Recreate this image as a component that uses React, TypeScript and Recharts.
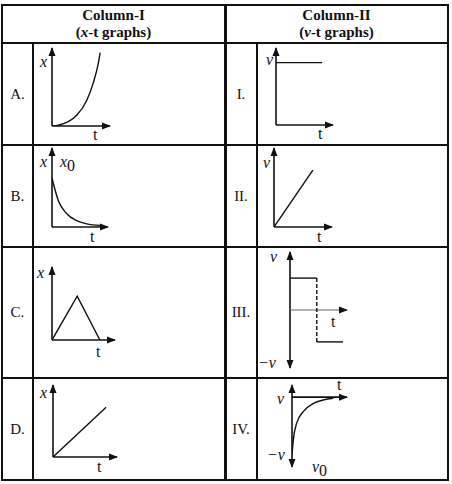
import React from 'react'
import { LineChart, Line, XAxis, YAxis, ReferenceLine, ReferenceDot } from 'recharts'

type Pt = { t: number; y: number }

// table text
const rowLetters = ['A.', 'B.', 'C.', 'D.']
const rowNumerals = ['I.', 'II.', 'III.', 'IV.']

// curves (each graph uses t in 0..10)
const curveA: Pt[] = [
  { t: 0, y: 0 }, { t: 1.1, y: 0.1 }, { t: 4.3, y: 1.4 }, { t: 6, y: 3.3 },
  { t: 7.1, y: 5.5 }, { t: 8, y: 8.1 }, { t: 8.3, y: 9.4 },
]
const lineI: Pt[] = [{ t: 0, y: 8.1 }, { t: 8.1, y: 8.1 }]
const curveB: Pt[] = [
  { t: 0, y: 6.2 }, { t: 1.1, y: 3.4 }, { t: 2.6, y: 1.7 }, { t: 4.4, y: 0.8 },
  { t: 6.2, y: 0.4 }, { t: 8.6, y: 0.2 },
]
const lineII: Pt[] = [{ t: 0, y: 0 }, { t: 6.7, y: 7.2 }]
const triangleC: Pt[] = [{ t: 0, y: 0 }, { t: 4, y: 6 }, { t: 7.6, y: 0 }]
const upperIII: Pt[] = [{ t: 0, y: 5.5 }, { t: 4.7, y: 5.5 }]
const dropIII: Pt[] = [{ t: 4.7, y: 5.5 }, { t: 4.7, y: -5.5 }]
const lowerIII: Pt[] = [{ t: 4.7, y: -5.5 }, { t: 9.3, y: -5.5 }]
const lineD: Pt[] = [{ t: 0, y: 0 }, { t: 8.3, y: 6.9 }]
const curveIV: Pt[] = [
  { t: 0, y: -10 }, { t: 0.24, y: -7.4 }, { t: 0.85, y: -4.5 }, { t: 2.05, y: -2.5 },
  { t: 3.9, y: -1.1 }, { t: 5.7, y: -0.5 }, { t: 7.5, y: -0.2 },
]

const FONT = '"Liberation Serif", "Times New Roman", serif'
const INK = '#111'

type Series = { data: Pt[]; curve?: 'monotone' | 'linear'; dash?: string }
type Label = { text: string; sub?: string; left: number; base: number; italic?: boolean }
type GraphSpec = {
  ox: number
  top: number
  w: number
  h: number
  yDomain: [number, number]
  downArrow?: boolean
  thinT?: boolean
  series: Series[]
  labels: Label[]
}

const graphs: GraphSpec[] = [
  {
    ox: 52, top: 48, w: 58, h: 78, yDomain: [0, 10],
    series: [{ data: curveA, curve: 'monotone' }],
    labels: [{ text: 'x', left: 40, base: 67, italic: true }, { text: 't', left: 93, base: 140 }],
  },
  {
    ox: 276, top: 48, w: 57, h: 77, yDomain: [0, 10],
    series: [{ data: lineI }],
    labels: [{ text: 'v', left: 266, base: 65, italic: true }, { text: 't', left: 318, base: 139 }],
  },
  {
    ox: 52, top: 148, w: 56, h: 79, yDomain: [0, 10],
    series: [{ data: curveB, curve: 'monotone' }],
    labels: [
      { text: 'x', left: 40, base: 167, italic: true },
      { text: 'x', sub: '0', left: 60, base: 167, italic: true },
      { text: 't', left: 90, base: 242 },
    ],
  },
  {
    ox: 274, top: 148, w: 58, h: 79, yDomain: [0, 10],
    series: [{ data: lineII }],
    labels: [{ text: 'v', left: 263, base: 168, italic: true }, { text: 't', left: 317, base: 242 }],
  },
  {
    ox: 52, top: 267, w: 63, h: 73, yDomain: [0, 10],
    series: [{ data: triangleC }],
    labels: [{ text: 'x', left: 37, base: 278, italic: true }, { text: 't', left: 96, base: 357 }],
  },
  {
    ox: 290, top: 252, w: 57, h: 116, yDomain: [-10, 10], downArrow: true, thinT: true,
    series: [{ data: upperIII }, { data: dropIII, dash: '4 2' }, { data: lowerIII }],
    labels: [
      { text: 'v', left: 270, base: 262, italic: true },
      { text: '−v', left: 258, base: 368, italic: true },
      { text: 't', left: 331, base: 327 },
    ],
  },
  {
    ox: 53, top: 385, w: 64, h: 72, yDomain: [0, 10],
    series: [{ data: lineD }],
    labels: [{ text: 'x', left: 40, base: 398, italic: true }, { text: 't', left: 97, base: 472 }],
  },
  {
    ox: 292, top: 385, w: 55, h: 82, yDomain: [-12.1, 2.1], downArrow: true,
    series: [{ data: curveIV, curve: 'monotone' }],
    labels: [
      { text: 'v', left: 277, base: 404, italic: true },
      { text: 't', left: 337, base: 390 },
      { text: '−v', left: 267, base: 460, italic: true },
      { text: 'v', sub: '0', left: 312, base: 472, italic: true },
    ],
  },
]

const arrow = (dir: 'up' | 'down' | 'right') => (props: any) => {
  const { cx, cy } = props
  let pts = ''
  if (dir === 'up') pts = `${cx},${cy - 1} ${cx - 3.5},${cy + 8} ${cx + 3.5},${cy + 8}`
  if (dir === 'down') pts = `${cx},${cy + 1} ${cx - 3.5},${cy - 8} ${cx + 3.5},${cy - 8}`
  if (dir === 'right') pts = `${cx + 1},${cy} ${cx - 8},${cy - 3.5} ${cx - 8},${cy + 3.5}`
  return <polygon points={pts} fill={INK} />
}

const PAD = 10

function Graph({ g }: { g: GraphSpec }) {
  const [yMin, yMax] = g.yDomain
  const tEnd = 10
  return (
    <>
      <div style={{ position: 'absolute', left: g.ox - PAD, top: g.top - PAD }}>
        <LineChart
          width={g.w + PAD * 2}
          height={g.h + PAD * 2}
          margin={{ top: PAD, right: PAD, bottom: PAD, left: PAD }}
        >
          <XAxis type="number" dataKey="t" domain={[0, tEnd]} hide allowDataOverflow />
          <YAxis type="number" domain={g.yDomain} hide allowDataOverflow />
          <ReferenceLine
            segment={[{ x: 0, y: yMin }, { x: 0, y: yMax }]}
            stroke={INK}
            strokeWidth={1.6}
          />
          <ReferenceLine
            segment={[{ x: 0, y: 0 }, { x: tEnd, y: 0 }]}
            stroke={g.thinT ? '#666' : INK}
            strokeWidth={g.thinT ? 1 : 1.6}
          />
          {g.series.map((s, i) => (
            <Line
              key={i}
              data={s.data}
              dataKey="y"
              type={s.curve ?? 'linear'}
              stroke={INK}
              strokeWidth={1.4}
              strokeDasharray={s.dash}
              dot={false}
              isAnimationActive={false}
            />
          ))}
          <ReferenceDot x={0} y={yMax} r={0} shape={arrow('up')} />
          <ReferenceDot x={tEnd} y={0} r={0} shape={arrow('right')} />
          {g.downArrow && <ReferenceDot x={0} y={yMin} r={0} shape={arrow('down')} />}
        </LineChart>
      </div>
      {g.labels.map((l, i) => (
        <span
          key={i}
          style={{
            position: 'absolute',
            left: l.left,
            top: l.base - 13.4,
            fontFamily: FONT,
            fontSize: 16,
            lineHeight: '16px',
            fontStyle: l.italic ? 'italic' : 'normal',
            whiteSpace: 'nowrap',
            color: INK,
          }}
        >
          {l.text}
          {l.sub && <span style={{ fontStyle: 'normal', position: 'relative', top: 4 }}>{l.sub}</span>}
        </span>
      ))}
    </>
  )
}

const rowEdges = [5, 43, 145, 247, 378, 480]
const colEdges = [2, 33, 225, 257, 448]

export default function App() {
  const hLine = (y: number, key: string) => (
    <div key={key} style={{ position: 'absolute', left: colEdges[0] - 1, top: y - 1, width: colEdges[4] - colEdges[0] + 2, height: 2, background: INK }} />
  )
  const vLine = (x: number, y0: number, y1: number, key: string, w = 2) => (
    <div key={key} style={{ position: 'absolute', left: x - w / 2, top: y0 - 1, width: w, height: y1 - y0 + 2, background: INK }} />
  )
  return (
    <div style={{ position: 'absolute', left: 0, top: 0, width: 452, height: 484, background: '#fff', fontFamily: FONT, color: INK }}>
      {rowEdges.map((y, i) => hLine(y, 'h' + i))}
      {vLine(colEdges[0], rowEdges[0], rowEdges[5], 'v0')}
      {vLine(colEdges[1], rowEdges[1], rowEdges[5], 'v1')}
      {vLine(colEdges[2], rowEdges[0], rowEdges[5], 'v2', 3)}
      {vLine(colEdges[3], rowEdges[1], rowEdges[5], 'v3')}
      {vLine(colEdges[4], rowEdges[0], rowEdges[5], 'v4')}

      {[
        { title: 'Column-I', sym: 'x', x0: colEdges[0], x1: colEdges[2] },
        { title: 'Column-II', sym: 'v', x0: colEdges[2], x1: colEdges[4] },
      ].map((h) => (
        <div
          key={h.title}
          style={{
            position: 'absolute',
            left: h.x0,
            width: h.x1 - h.x0,
            top: rowEdges[0],
            height: rowEdges[1] - rowEdges[0],
            display: 'flex',
            flexDirection: 'column',
            justifyContent: 'center',
            alignItems: 'center',
            fontWeight: 'bold',
            fontSize: 15,
            lineHeight: '17px',
          }}
        >
          <div>{h.title}</div>
          <div>
            (<i>{h.sym}</i>-t graphs)
          </div>
        </div>
      ))}

      {rowLetters.map((r, i) => (
        <div
          key={r}
          style={{
            position: 'absolute',
            left: colEdges[0],
            width: colEdges[1] - colEdges[0],
            top: rowEdges[i + 1],
            height: rowEdges[i + 2] - rowEdges[i + 1],
            display: 'flex',
            alignItems: 'center',
            justifyContent: 'center',
            fontSize: 15,
          }}
        >
          {r}
        </div>
      ))}
      {rowNumerals.map((r, i) => (
        <div
          key={r}
          style={{
            position: 'absolute',
            left: colEdges[2],
            width: colEdges[3] - colEdges[2],
            top: rowEdges[i + 1],
            height: rowEdges[i + 2] - rowEdges[i + 1],
            display: 'flex',
            alignItems: 'center',
            justifyContent: 'center',
            fontSize: 15,
          }}
        >
          {r}
        </div>
      ))}

      {graphs.map((g, i) => (
        <Graph key={i} g={g} />
      ))}
    </div>
  )
}
